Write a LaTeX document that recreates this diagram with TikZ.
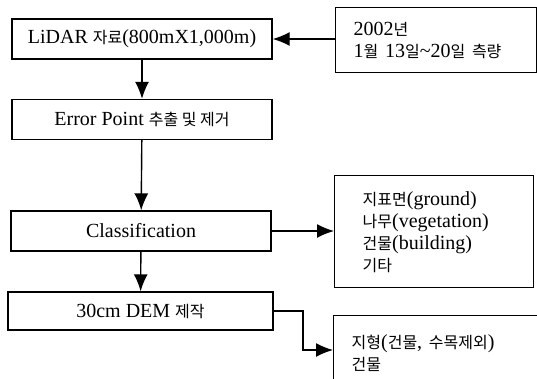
\documentclass[tikz,border=0pt]{standalone}
\usepackage{fontspec}
\setmainfont{Liberation Serif}
\newfontfamily\kr[Scale=0.8]{Noto Sans CJK KR}
\usetikzlibrary{arrows.meta,positioning}
\tikzset{>={Latex[length=17pt,width=14pt]}}
\tikzset{every path/.style={line width=1.4pt}}
\tikzset{stepbox/.style={draw, line width=1.4pt, minimum width=260pt,
    minimum height=40pt, inner sep=0pt, font=\fontsize{20}{22}\selectfont}}
\tikzset{notebox/.style={draw, line width=1.4pt, anchor=north west, align=left,
    inner xsep=18pt, inner ysep=0pt, font=\fontsize{20}{22}\selectfont}}

\begin{document}
\begin{tikzpicture}[x=1pt,y=-1pt]
  \useasboundingbox (0,0) rectangle (537,378);
  % processing steps
  \node[stepbox] (lidar) at (142,39) {LiDAR {\kr 자료}(800mX1,000m)};
  \node[stepbox] (error) at (142,119.5) {Error Point {\kr 추출 및 제거}};
  \node[stepbox] (cls) at (141,231) {Classification};
  \node[stepbox, minimum width=265pt, minimum height=38pt] (dem) at (140.5,311) {30cm DEM {\kr 제작}};
  % notes on the right
  \node[notebox, text width=165pt, minimum height=65pt] (survey) at (335,7)
    {2002{\kr 년}\\1{\kr 월} 13{\kr 일}\textasciitilde 20{\kr 일 측량}};
  \node[notebox, inner xsep=28pt, text width=143pt, minimum height=112pt] (classes) at (334,175)
    {{\kr 지표면}(ground)\\{\kr 나무}(vegetation)\\{\kr 건물}(building)\\{\kr 기타}};
  \node[notebox, text width=180pt, minimum height=75pt] (terrain) at (333,315)
    {{\kr 지형}({\kr 건물}, {\kr 수목제외})\\{\kr 건물}};
  \coordinate (bend) at (303,350);
  % connectors
  \draw[->] (survey.west |- lidar.east) -- (lidar.east);
  \draw[->] (lidar) -- (error);
  \draw[->] (error) -- (cls);
  \draw[->] (cls.east) -- (cls.east -| classes.west);
  \draw[->] (cls) -- (dem);
  \draw[->] (dem.east) -| (bend) -- (bend -| terrain.west);
\end{tikzpicture}
\end{document}
